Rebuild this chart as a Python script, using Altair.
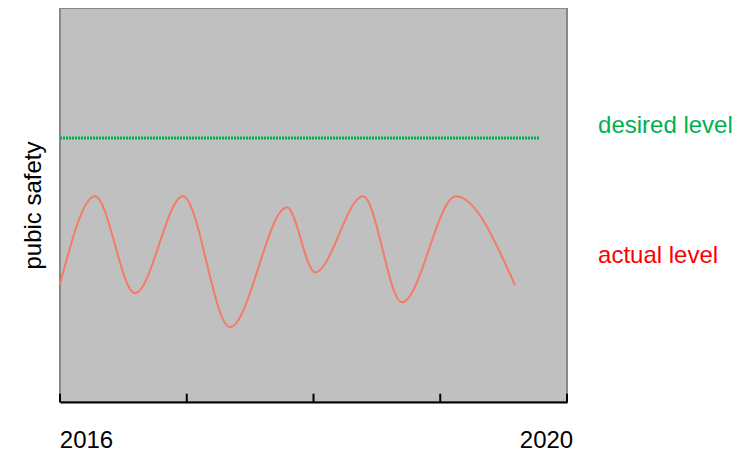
import altair as alt
import pandas as pd

# Actual level curve (years, value on 0-100 scale)
actual_years = [2016.0, 2016.276, 2016.592, 2016.970, 2017.341, 2017.791,
                2018.012, 2018.391, 2018.698, 2019.124, 2019.590]
actual_values = [29.9, 52.2, 27.6, 52.2, 19.0, 49.4, 32.9, 52.2, 25.3, 52.2, 29.6]

# Desired level (flat dotted line)
desired_years = [2016.0, 2019.787]
desired_values = [67, 67]

# Axis ticks
tick_years = [2016, 2017, 2018, 2019, 2020]

# Annotation labels
label_texts = ["desired level", "actual level"]
label_years = [2020.245, 2020.245]
label_values = [68.4, 35.2]
label_colors = ["#00B050", "#FF0000"]

FONT = "Liberation Sans"

actual_df = pd.DataFrame({"x": actual_years, "y": actual_values})
desired_df = pd.DataFrame({"x": desired_years, "y": desired_values})
ticks_df = pd.DataFrame({"x": tick_years, "y": [0] * len(tick_years), "y2": [2.1] * len(tick_years)})
labels_df = pd.DataFrame({"x": label_years, "y": label_values, "text": label_texts, "color": label_colors})

xscale = alt.Scale(domain=[2016, 2020], nice=False, zero=False)
yscale = alt.Scale(domain=[0, 100], nice=False, zero=False)

xaxis = alt.Axis(
    title=None, ticks=False, grid=False, domainColor="black", domainWidth=2,
    values=[2016, 2020], format="d", labelFontSize=24, labelFont=FONT,
    labelColor="black", labelFlush=False, labelPadding=26,
    labelOffset={"condition": {"test": "datum.value == 2016", "value": 26}, "value": -21},
)
yaxis = alt.Axis(
    title="pubic safety", titleFontSize=24, titleFont=FONT, titleFontWeight="normal",
    titleColor="black", titlePadding=15, labels=False, ticks=False, domain=False, grid=False,
)

X = alt.X("x:Q", scale=xscale, axis=xaxis)
Y = alt.Y("y:Q", scale=yscale, axis=yaxis)

actual = alt.Chart(actual_df).mark_line(
    interpolate="monotone", color="#F47B67", strokeWidth=2
).encode(x=X, y=Y)

desired = alt.Chart(desired_df).mark_line(
    color="#00B050", strokeWidth=3, strokeDash=[2, 1]
).encode(x=X, y=Y)

ticks = alt.Chart(ticks_df).mark_rule(color="black", strokeWidth=2).encode(
    x=X, y=Y, y2="y2:Q"
)

labels = alt.Chart(labels_df).mark_text(
    align="left", baseline="alphabetic", fontSize=24, font=FONT
).encode(x=X, y=Y, text="text:N", color=alt.Color("color:N", scale=None))

chart = alt.layer(actual, desired, ticks, labels).properties(
    width=507, height=394,
    autosize=alt.AutoSizeParams(type="none"),
    padding={"left": 52, "top": 0, "right": 176, "bottom": 50},
).configure_view(
    fill="#C0C0C0", stroke="#888888", strokeWidth=2
)

chart.save("out.html", embed_options={"renderer": "svg", "actions": False})
